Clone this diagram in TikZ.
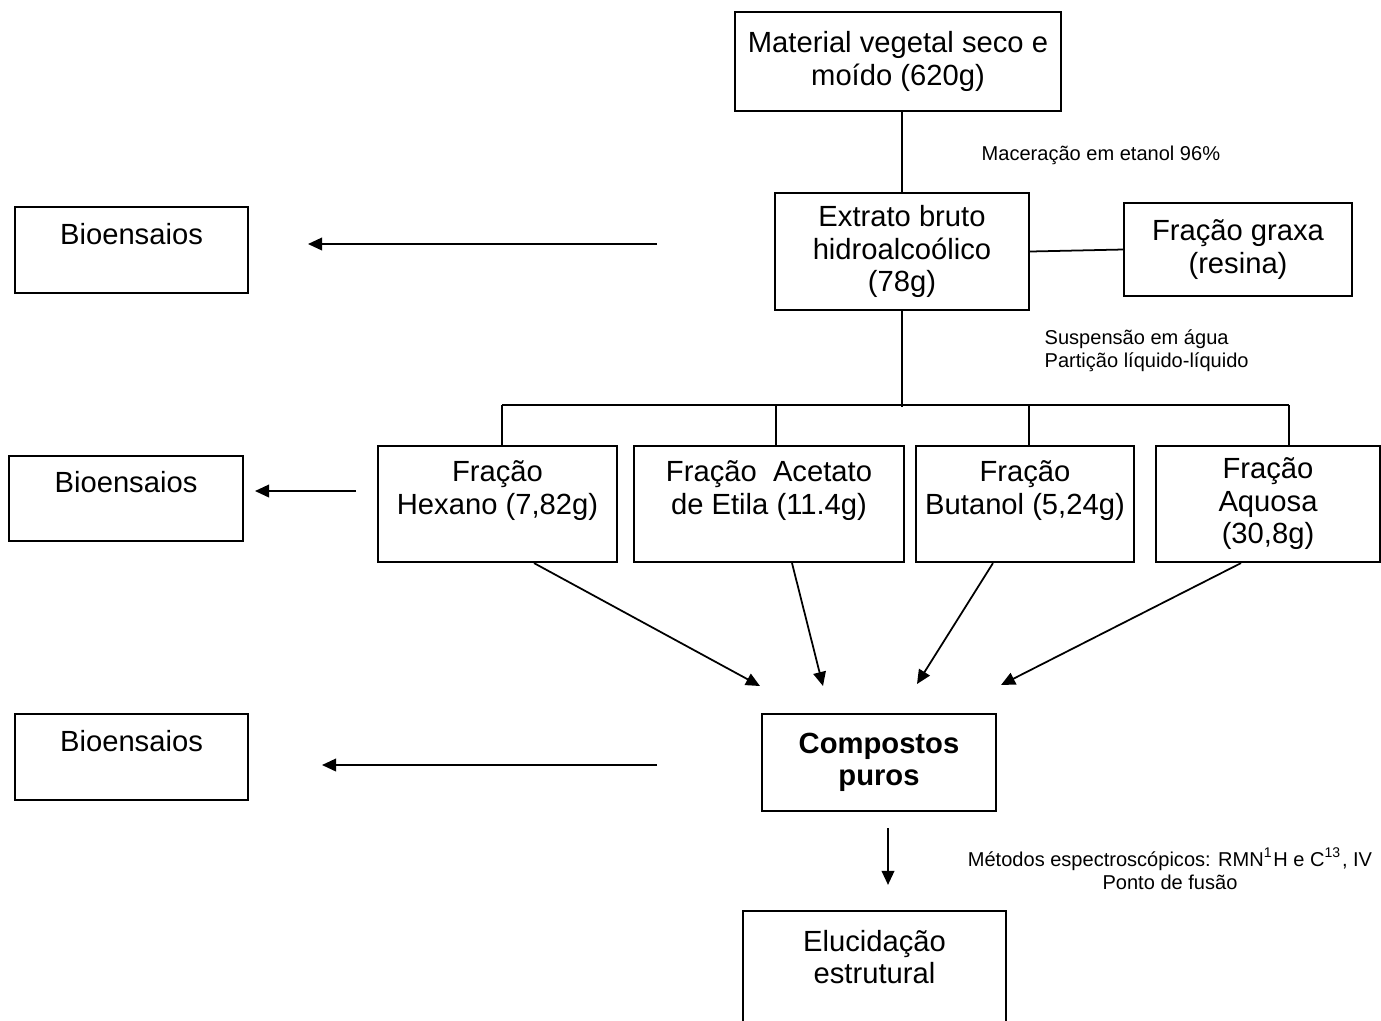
\documentclass[tikz,border=0pt]{standalone}
\usepackage{fontspec}
\setmainfont{Liberation Sans}
\usetikzlibrary{arrows.meta}

\tikzset{
  box/.style={draw, line width=0.6pt, align=center, inner sep=0pt, font=\fontsize{8.3}{9.25}\selectfont},
  note/.style={inner sep=0pt, font=\fontsize{5.7}{6.55}\selectfont},
  link/.style={line width=0.5pt},
  flow/.style={line width=0.5pt, -{Triangle[length=4pt,width=3.6pt]}}
}

\begin{document}
\begin{tikzpicture}[x=0.01cm, y=-0.01cm]
      \clip (0,0) rectangle (1381,1020);

      % Draw main boxes
      \node[box, minimum width=3.26cm, minimum height=0.99cm] (mat) at (898,61.5) {Material vegetal seco e\\moído (620g)};
      \node[box, minimum width=2.54cm, minimum height=1.17cm] (ext) at (902,251.5) {Extrato bruto\\hidroalcoólico\\(78g)};
      \node[box, minimum width=2.28cm, minimum height=0.93cm] (graxa) at (1238,249.5) {Fração graxa\\(resina)};
      \node[box, minimum width=2.34cm, minimum height=0.97cm] (comp) at (879,762.5) {\textbf{Compostos}\\\textbf{puros}};
      \node[box, minimum width=2.63cm, minimum height=1.24cm] (eluc) at (874.5,973) {Elucidação\\estrutural\\~};

      % Draw fractions
      \node[box, minimum width=2.39cm, minimum height=1.16cm] (hex) at (497.5,504) {Fração\\Hexano (7,82g)\\~};
      \node[box, minimum width=2.69cm, minimum height=1.16cm] (acet) at (769,504) {Fração~~Acetato\\de Etila (11.4g)\\~};
      \node[box, minimum width=2.18cm, minimum height=1.16cm] (but) at (1025,504) {Fração\\Butanol (5,24g)\\~};
      \node[box, minimum width=2.24cm, minimum height=1.16cm] (aq) at (1268,504) {Fração\\Aquosa\\(30,8g)};

      % Draw bioassay boxes
      \node[box, minimum width=2.33cm, minimum height=0.86cm] (bioA) at (131.5,250) {Bioensaios\\~};
      \node[box, minimum width=2.34cm, minimum height=0.85cm] (bioB) at (126,498.5) {Bioensaios\\~};
      \node[box, minimum width=2.33cm, minimum height=0.86cm] (bioC) at (131.5,757) {Bioensaios\\~};

      % Label the steps
      \node[note, anchor=west] (mac) at (981,155) {Maceração em etanol 96\%};
      \node[note, anchor=west, align=left] (susp) at (1044,350.5) {Suspensão em água\\Partição líquido-líquido};
      \node[note, align=center] (met) at (1170,868.5) {Métodos espectroscópicos: RMN\textsuperscript{1}H e C\textsuperscript{13}, IV\\Ponto de fusão};

      % Draw links
      \draw[link] (ext.north) -- (ext.north |- mat.south);
      \draw[link] (ext.east) -- (graxa.west);
      \coordinate (split) at (902,407);
      \coordinate (dhex) at (502,405);
      \coordinate (dacet) at (776,405);
      \coordinate (dbut) at (1029,405);
      \coordinate (daq) at (1289,405);
      \draw[link] (ext.south) -- (split);
      \draw[link] (dhex) -- (daq);
      \foreach \d/\f in {dhex/hex, dacet/acet, dbut/but, daq/aq}
          \draw[link] (\d) -- (\d |- \f.north);

      % Arrows to pure compounds
      \coordinate (t1) at (760,686);
      \coordinate (t2) at (823,686);
      \coordinate (t3) at (917,684);
      \coordinate (t4) at (1001,685);
      \draw[flow] ([xshift=0.365cm]hex.south) -- (t1);
      \draw[flow] ([xshift=0.23cm]acet.south) -- (t2);
      \draw[flow] ([xshift=-0.32cm]but.south) -- (t3);
      \draw[flow] ([xshift=-0.27cm]aq.south) -- (t4);

      % Arrows to bioassays
      \coordinate (aA) at (657,244);
      \coordinate (tA) at (308,244);
      \coordinate (aB) at (356,491);
      \coordinate (tB) at (255,491);
      \coordinate (aC) at (657,765);
      \coordinate (tC) at (322,765);
      \draw[flow] (aA) -- (tA);
      \draw[flow] (aB) -- (tB);
      \draw[flow] (aC) -- (tC);

      % Arrow to elucidation
      \draw[flow, shorten <=0.16cm, shorten >=0.25cm] ([xshift=0.09cm]comp.south) -- ([xshift=0.09cm]comp.south |- eluc.north);
\end{tikzpicture}
\end{document}
